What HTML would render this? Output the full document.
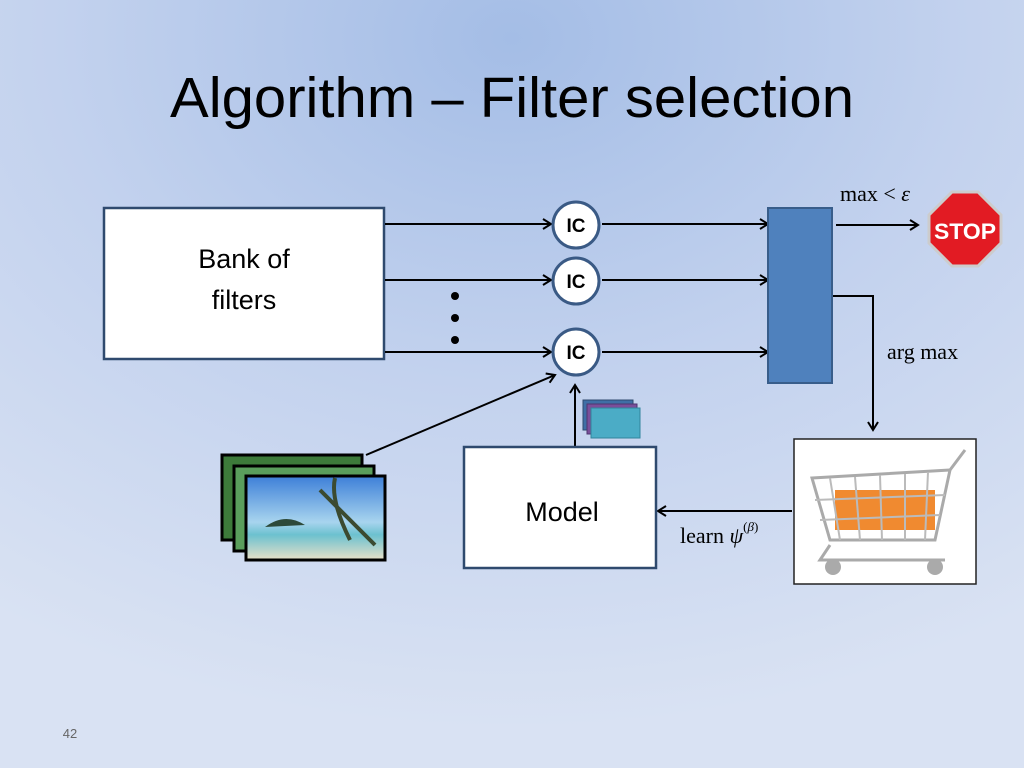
<!DOCTYPE html>
<html><head><meta charset="utf-8"><style>
body{margin:0;width:1024px;height:768px;overflow:hidden;font-family:"Liberation Sans",sans-serif}
</style></head><body>
<svg width="1024" height="768" xmlns="http://www.w3.org/2000/svg">
<defs>
<radialGradient id="bg" cx="0.5" cy="0.05" r="0.9">
<stop offset="0" stop-color="#a4bde6"/><stop offset="0.5" stop-color="#c3d2ee"/><stop offset="1" stop-color="#d9e2f3"/>
</radialGradient>
<linearGradient id="sky" x1="0" y1="0" x2="0" y2="1"><stop offset="0" stop-color="#3d7fd8"/><stop offset="0.55" stop-color="#a8d4ee"/><stop offset="0.7" stop-color="#6cc1cf"/><stop offset="1" stop-color="#e8e0c8"/></linearGradient>
<marker id="a" markerWidth="12" markerHeight="12" refX="10" refY="6" orient="auto" markerUnits="userSpaceOnUse"><path d="M2,1 L10,6 L2,11" fill="none" stroke="#000" stroke-width="2"/></marker>
</defs>
<rect width="1024" height="768" fill="url(#bg)"/>
<text x="512" y="117" text-anchor="middle" font-family="Liberation Sans, DejaVu Sans, sans-serif" font-size="57" textLength="684" lengthAdjust="spacingAndGlyphs" fill="#000">Algorithm – Filter selection</text>
<rect x="104" y="208" width="280" height="151" fill="#fff" stroke="#2f4a6e" stroke-width="2.5"/>
<text x="244" y="268" text-anchor="middle" font-size="27">Bank of</text>
<text x="244" y="309" text-anchor="middle" font-size="27">filters</text>
<g stroke="#000" stroke-width="2" marker-end="url(#a)">
<line x1="385" y1="224" x2="551" y2="224"/><line x1="385" y1="280" x2="551" y2="280"/><line x1="385" y1="352" x2="551" y2="352"/>
<line x1="602" y1="224" x2="768" y2="224"/><line x1="602" y1="280" x2="768" y2="280"/><line x1="602" y1="352" x2="768" y2="352"/>
<line x1="836" y1="225" x2="918" y2="225"/>
<polyline points="832,296 873,296 873,430" fill="none"/>
<line x1="792" y1="511" x2="658" y2="511"/>
<line x1="575" y1="447" x2="575" y2="385"/>
<line x1="366" y1="455" x2="555" y2="375"/>
</g>
<g fill="#000"><circle cx="455" cy="296" r="4"/><circle cx="455" cy="318" r="4"/><circle cx="455" cy="340" r="4"/></g>
<g fill="#fff" stroke="#3a5a85" stroke-width="3">
<circle cx="576" cy="225" r="23"/><circle cx="576" cy="281" r="23"/><circle cx="576" cy="352" r="23"/></g>
<g font-size="19" font-weight="bold" text-anchor="middle"><text x="576" y="232">IC</text><text x="576" y="288">IC</text><text x="576" y="359">IC</text></g>
<rect x="768" y="208" width="64" height="175" fill="#4f81bd" stroke="#385d8a" stroke-width="2"/>
<g font-family="Liberation Serif, serif" font-size="22">
<text x="840" y="201">max &lt; <tspan font-style="italic">ε</tspan></text>
<text x="887" y="359">arg max</text>
<text x="680" y="543">learn <tspan font-style="italic">ψ</tspan><tspan font-size="13" dy="-12">(<tspan font-style="italic">β</tspan>)</tspan></text>
</g>
<polygon points="952,192 978,192 1001,215 1001,243 978,266 952,266 929,243 929,215" fill="#e21b23" stroke="#ccc" stroke-width="3"/>
<text x="965" y="239" text-anchor="middle" font-size="22" font-weight="bold" fill="#fff" textLength="62" lengthAdjust="spacingAndGlyphs">STOP</text>
<rect x="464" y="447" width="192" height="121" fill="#fff" stroke="#2f4a6e" stroke-width="2.5"/>
<text x="562" y="521" text-anchor="middle" font-size="27">Model</text>
<rect x="583" y="400" width="50" height="30" fill="#3f6fa6" stroke="#2f4a6e"/>
<rect x="587" y="404" width="50" height="30" fill="#7a4f9a" stroke="#4f3670"/>
<rect x="591" y="408" width="49" height="30" fill="#4bacc6" stroke="#31859c"/>
<rect x="222" y="455" width="140" height="85" fill="#3d7a3a" stroke="#000" stroke-width="3"/>
<rect x="234" y="466" width="140" height="85" fill="#5a9e5c" stroke="#000" stroke-width="3"/>
<rect x="246" y="476" width="139" height="84" fill="url(#sky)" stroke="#000" stroke-width="3"/>
<path d="M265,527 Q285,512 305,525 Z" fill="#2d4a3a"/>
<path d="M320,490 L375,545 M335,478 Q330,500 350,540" stroke="#3b4a30" stroke-width="4" fill="none"/>
<rect x="794" y="439" width="182" height="145" fill="#fff" stroke="#222" stroke-width="1.5"/>
<path d="M812,478 L950,470 L935,540 L830,540 Z" fill="none" stroke="#aaa" stroke-width="3"/>
<rect x="835" y="490" width="100" height="40" fill="#f08a30"/>
<g stroke="#bbb" stroke-width="2"><line x1="830" y1="478" x2="840" y2="540"/><line x1="855" y1="477" x2="860" y2="540"/><line x1="880" y1="475" x2="882" y2="540"/><line x1="905" y1="474" x2="905" y2="540"/><line x1="928" y1="472" x2="925" y2="540"/><line x1="815" y1="500" x2="945" y2="495"/><line x1="820" y1="520" x2="940" y2="515"/></g>
<path d="M950,470 L965,450 M830,545 L820,560 L945,560" stroke="#aaa" stroke-width="3" fill="none"/>
<circle cx="833" cy="567" r="8" fill="#aaa"/><circle cx="935" cy="567" r="8" fill="#aaa"/>
<text x="70" y="738" text-anchor="middle" font-size="13" fill="#666">42</text>
</svg>
</body></html>
